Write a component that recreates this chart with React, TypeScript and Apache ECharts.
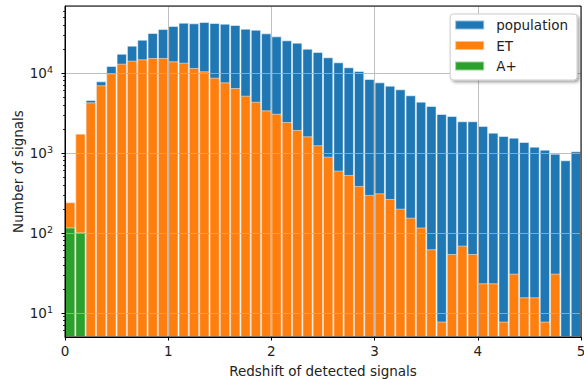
import React, { useEffect, useRef } from 'react';
import * as echarts from 'echarts';

// Histogram bins: 50 bins of width 0.1 from 0 to 5 (bin centres)
const binCenters: string[] = Array.from({ length: 50 }, (_, i) => (i * 0.1 + 0.05).toFixed(2));

const population: (number | null)[] = [
  242, 1740, 4600, 7870, 12240, 17400, 21970, 26060, 31620, 35480,
  38700, 42550, 41770, 43400, 42170, 41300, 39800, 35800, 34750, 31300,
  28700, 25600, 23900, 20130, 18300, 15700, 13600, 11780, 10590, 8410,
  7640, 6940, 6250, 5260, 4380, 3870, 3070, 2900, 2490, 2490,
  2175, 1795, 1630, 1553, 1372, 1199, 1100, 980, 810, 1050,
];

const et: (number | null)[] = [
  242, 1740, 4300, 7020, 9910, 13070, 14250, 14820, 15400, 15400,
  14000, 13450, 11550, 10500, 8730, 7640, 6490, 5200, 4370, 3410,
  3090, 2440, 1940, 1616, 1250, 900, 601, 531, 387, 299,
  313, 266, 201, 155, 117, 62.5, 7.8, 54.6, 69.4, 54.6,
  23.5, 23.5, 7.8, 31, 15.7, 15.7, 7.8, 31, null, null,
];

const aPlus: (number | null)[] = [
  117, 102, null, null, null, null, null, null, null, null,
  null, null, null, null, null, null, null, null, null, null,
  null, null, null, null, null, null, null, null, null, null,
  null, null, null, null, null, null, null, null, null, null,
  null, null, null, null, null, null, null, null, null, null,
];

const seriesNames = ['population', 'ET', 'A+'];
const seriesColors = ['#1f77b4', '#ff7f0e', '#2ca02c'];

const xTicks = [0, 1, 2, 3, 4, 5];
const yMajorTicks = [10, 100, 1000, 10000];
const yMinorTicks = [
  6, 7, 8, 9,
  20, 30, 40, 50, 60, 70, 80, 90,
  200, 300, 400, 500, 600, 700, 800, 900,
  2000, 3000, 4000, 5000, 6000, 7000, 8000, 9000,
  20000, 30000, 40000, 50000, 60000,
];

const Y_MIN = 5;
const Y_MAX = 68800;
const FONT = '"DejaVu Sans", sans-serif';
const TEXT = '#222';
const GRID_LINE = 'rgba(176,176,176,0.8)';

const toNull = (arr: (number | null)[]) => arr.map((v) => (v == null ? '-' : v));

export default function App() {
  const ref = useRef<HTMLDivElement>(null);

  useEffect(() => {
    if (!ref.current) return;
    const chart = echarts.init(ref.current, undefined, { renderer: 'svg' });
    const lmin = Math.log10(Y_MIN);
    const lmax = Math.log10(Y_MAX);

    const barStyle = (color: string) => ({
      color,
      borderColor: 'rgba(255,255,255,0.5)',
      borderWidth: 1,
    });

    const option: any = {
      animation: false,
      textStyle: { fontFamily: FONT },
      grid: {
        left: 65,
        right: 3,
        top: 6,
        bottom: 43,
        containLabel: false,
        outerBoundsMode: 'none',
        show: true,
        z: 10,
        borderColor: '#000',
        borderWidth: 1,
        backgroundColor: 'transparent',
      },
      legend: {
        orient: 'vertical',
        right: 7,
        top: 14,
        itemWidth: 29,
        itemHeight: 9,
        itemGap: 6.5,
        padding: [4, 9, 7, 4],
        backgroundColor: '#fff',
        borderColor: '#ccc',
        borderWidth: 1,
        borderRadius: 3,
        shadowColor: 'rgba(0,0,0,0.35)',
        shadowBlur: 3,
        shadowOffsetX: 2,
        shadowOffsetY: 2,
        icon: 'rect',
        z: 20,
        textStyle: { fontSize: 13.5, color: TEXT, fontFamily: FONT, padding: [0, 0, 0, 7] },
        data: seriesNames,
      },
      xAxis: [
        {
          type: 'category',
          data: binCenters,
          show: false,
          position: 'top',
          boundaryGap: true,
        },
        {
          type: 'value',
          min: xTicks[0],
          max: xTicks[xTicks.length - 1],
          interval: 1,
          position: 'bottom',
          z: 5,
          axisLine: { show: true, onZero: false, lineStyle: { color: '#000', width: 1 } },
          axisTick: { show: true, inside: false, length: 3.5, lineStyle: { color: '#000', width: 1 } },
          axisLabel: { margin: 7, fontSize: 13.5, color: TEXT, fontFamily: FONT },
          splitLine: { show: true, lineStyle: { color: GRID_LINE, width: 1 } },
          name: 'Redshift of detected signals',
          nameLocation: 'middle',
          nameGap: 27,
          nameMoveOverlap: false,
          nameTextStyle: { fontSize: 13.5, color: TEXT, fontFamily: FONT },
        },
      ],
      yAxis: [
        {
          type: 'log',
          logBase: 10,
          min: Y_MIN,
          max: Y_MAX,
          startValue: Y_MIN,
          position: 'left',
          z: 5,
          axisLine: { show: true, onZero: false, lineStyle: { color: '#000', width: 1 } },
          axisTick: { show: false },
          axisLabel: {
            margin: 12,
            fontSize: 13.5,
            color: TEXT,
            fontFamily: FONT,
            formatter: (v: number) => {
              const e = Math.log10(v);
              if (Math.abs(e - Math.round(e)) > 1e-6) return '';
              return '10{sup|' + Math.round(e) + '}';
            },
            rich: {
              sup: { fontSize: 9.5, verticalAlign: 'top', color: TEXT, fontFamily: FONT, padding: [0, 0, 6, 0] },
            },
          },
          splitLine: { show: true, lineStyle: { color: GRID_LINE, width: 1 } },
          name: 'Number of signals',
          nameLocation: 'middle',
          nameGap: 40,
          nameMoveOverlap: false,
          nameTextStyle: { fontSize: 13.5, color: TEXT, fontFamily: FONT },
        },
        {
          type: 'value',
          min: lmin,
          max: lmax,
          position: 'left',
          z: 5,
          axisLine: { show: false, onZero: false },
          axisLabel: { show: false },
          splitLine: { show: false },
          axisTick: {
            show: true,
            length: 3.5,
            customValues: yMajorTicks.map((v) => Math.log10(v)),
            lineStyle: { color: '#000', width: 1 },
          },
        },
        {
          type: 'value',
          min: lmin,
          max: lmax,
          position: 'left',
          z: 5,
          axisLine: { show: false, onZero: false },
          axisLabel: { show: false },
          splitLine: { show: false },
          axisTick: {
            show: true,
            length: 2,
            customValues: yMinorTicks.map((v) => Math.log10(v)),
            lineStyle: { color: '#000', width: 0.8 },
          },
        },
      ],
      series: [
        { name: seriesNames[0], data: toNull(population), color: seriesColors[0] },
        { name: seriesNames[1], data: toNull(et), color: seriesColors[1] },
        { name: seriesNames[2], data: toNull(aPlus), color: seriesColors[2] },
      ].map((s) => ({
        name: s.name,
        type: 'bar',
        xAxisIndex: 0,
        yAxisIndex: 0,
        data: s.data,
        barGap: '-100%',
        barCategoryGap: '0%',
        itemStyle: barStyle(s.color),
      })),
    };

    chart.setOption(option);
    return () => chart.dispose();
  }, []);

  return <div ref={ref} style={{ width: 584, height: 380, position: 'absolute', left: 0, top: 0 }} />;
}
